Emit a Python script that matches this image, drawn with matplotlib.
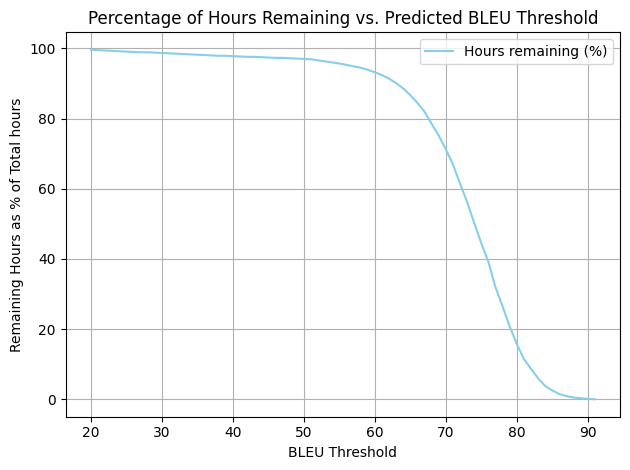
import matplotlib
matplotlib.use("Agg")
import matplotlib.pyplot as plt

# BLEU thresholds (integer steps) and remaining hours (%)
bleu_thresholds = list(range(20, 92))
hours_remaining = [
    99.6, 99.5, 99.4, 99.3, 99.2, 99.1, 99.0, 98.9, 98.9, 98.8,
    98.7, 98.6, 98.5, 98.4, 98.3, 98.2, 98.1, 98.0, 97.9, 97.9,
    97.8, 97.7, 97.6, 97.6, 97.5, 97.4, 97.3, 97.3, 97.2, 97.1,
    97.0, 96.9, 96.6, 96.3, 96.0, 95.7, 95.3, 94.9, 94.5, 93.9,
    93.2, 92.4, 91.4, 90.1, 88.6, 86.7, 84.5, 82.0, 78.5, 75.2,
    71.3, 67.0, 61.5, 56.3, 50.3, 44.5, 39.2, 32.0, 26.5, 20.8,
    15.8, 11.5, 8.7, 6.0, 3.8, 2.5, 1.5, 0.9, 0.5, 0.3,
    0.1, 0.0,
]

def main():
    plt.figure(figsize=(6.4, 4.8), dpi=100)
    plt.plot(bleu_thresholds, hours_remaining, color="skyblue", label="Hours remaining (%)")
    plt.title("Percentage of Hours Remaining vs. Predicted BLEU Threshold")
    plt.xlabel("BLEU Threshold")
    plt.ylabel("Remaining Hours as % of Total hours")
    plt.legend()
    plt.grid(True)
    plt.tight_layout()
    plt.savefig("out.png", dpi=100, bbox_inches="tight")
    plt.close()

if __name__ == "__main__":
    main()
